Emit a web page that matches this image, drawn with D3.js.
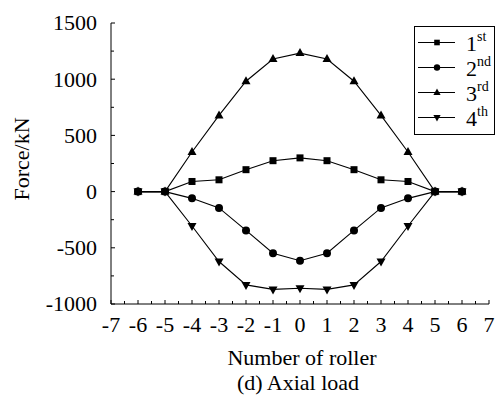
<!DOCTYPE html>
<html><head><meta charset="utf-8">
<script src="https://cdn.jsdelivr.net/npm/d3@7"></script>
<style>body{margin:0;background:#fff}svg{display:block}text{font-family:"Liberation Serif","Times New Roman",serif;fill:#000}</style>
</head><body><svg id="c" width="497" height="401"></svg>
<script>
const rollers = [-6,-5,-4,-3,-2,-1,0,1,2,3,4,5,6];
const s1 = [0,0,90,105,195,275,300,275,195,105,90,0,0];
const s2 = [0,0,-60,-145,-345,-548,-615,-548,-345,-145,-60,0,0];
const s3 = [0,0,352,678,982,1180,1232,1180,982,678,352,0,0];
const s4 = [0,0,-306,-622,-830,-870,-860,-870,-830,-622,-306,0,0];
const seriesNames = ["1","2","3","4"];
const seriesSup = ["st","nd","rd","th"];
const xTicks = [-7,-6,-5,-4,-3,-2,-1,0,1,2,3,4,5,6,7];
const yTicks = [-1000,-500,0,500,1000,1500];

const svg = d3.select("#c");
const x = d3.scaleLinear().domain([-7,7]).range([111,489]);
const y = d3.scaleLinear().domain([-1000,1500]).range([304,23]);
const fs = 22;

// axes
const gx = svg.append("g").attr("transform","translate(0,304)");
gx.append("line").attr("x1",x(-7)).attr("x2",x(7)).attr("stroke","#000");
d3.range(-7,7.01,0.5).forEach(v=>{
  const maj = Number.isInteger(v);
  gx.append("line").attr("x1",x(v)).attr("x2",x(v)).attr("y1",0).attr("y2",maj?-4:-3).attr("stroke","#000");
});
xTicks.forEach(v=>{
  gx.append("text").attr("x",x(v)).attr("y",28).attr("text-anchor","middle").attr("font-size",fs).text(v);
});
const gy = svg.append("g").attr("transform","translate(111,0)");
gy.append("line").attr("y1",y(-1000)).attr("y2",y(1500)).attr("stroke","#000");
d3.range(-1000,1501,250).forEach(v=>{
  const maj = v%500===0;
  gy.append("line").attr("x1",0).attr("x2",maj?4:3).attr("y1",y(v)).attr("y2",y(v)).attr("stroke","#000");
});
yTicks.forEach(v=>{
  gy.append("text").attr("x",-14).attr("y",y(v)).attr("dy","0.34em").attr("text-anchor","end").attr("font-size",fs).text(v);
});

svg.append("text").attr("transform","translate(29,159) rotate(-90)").attr("text-anchor","middle").attr("font-size",fs).text("Force/kN");
svg.append("text").attr("x",302).attr("y",365).attr("text-anchor","middle").attr("font-size",fs).text("Number of roller");
svg.append("text").attr("x",298).attr("y",390).attr("text-anchor","middle").attr("font-size",fs).text("(d) Axial load");

const all = [s1,s2,s3,s4];
const line = d3.line().x((d,i)=>x(rollers[i])).y(d=>y(d));
function marker(g,k,cx,cy,sc){
  if(k===0) g.append("rect").attr("x",cx-3.5*sc).attr("y",cy-3.5*sc).attr("width",7*sc).attr("height",7*sc).attr("fill","#000");
  else if(k===1) g.append("circle").attr("cx",cx).attr("cy",cy).attr("r",4*sc).attr("fill","#000");
  else if(k===2) g.append("path").attr("d",`M${cx},${cy-5*sc}L${cx+4.5*sc},${cy+3*sc}L${cx-4.5*sc},${cy+3*sc}Z`).attr("fill","#000");
  else g.append("path").attr("d",`M${cx},${cy+5*sc}L${cx+4.5*sc},${cy-3*sc}L${cx-4.5*sc},${cy-3*sc}Z`).attr("fill","#000");
}
all.forEach((s,k)=>{
  const g = svg.append("g");
  g.append("path").attr("d",line(s)).attr("fill","none").attr("stroke","#000").attr("stroke-width",1.1);
  s.forEach((d,i)=>marker(g,k,x(rollers[i]),y(d),1));
});

// legend
const lg = svg.append("g");
lg.append("rect").attr("x",414.5).attr("y",26.5).attr("width",80).attr("height",108).attr("fill","#fff").attr("stroke","#000");
seriesNames.forEach((n,k)=>{
  const yy = 42.5 + k*25;
  lg.append("line").attr("x1",418).attr("x2",455).attr("y1",yy).attr("y2",yy).attr("stroke","#000");
  marker(lg,k,437,yy,0.8);
  const t = lg.append("text").attr("x",466).attr("y",yy+8).attr("font-size",fs);
  t.append("tspan").text(n);
  t.append("tspan").attr("font-size",14).attr("dy",-10).text(seriesSup[k]);
});
</script></body></html>
